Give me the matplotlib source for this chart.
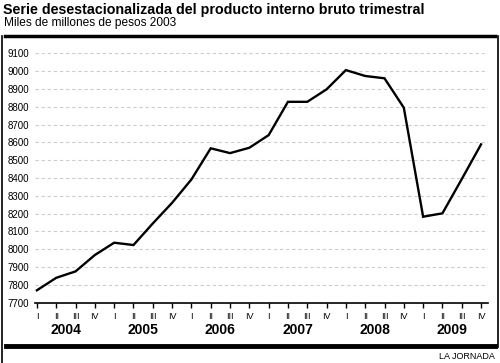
import matplotlib.pyplot as plt
from matplotlib.lines import Line2D

plt.rcParams['font.family'] = ['Liberation Sans', 'DejaVu Sans']

years = ['2004', '2005', '2006', '2007', '2008', '2009']
quarters = ['I', 'II', 'III', 'IV']
# PIB desestacionalizado, miles de millones de pesos 2003
pib = [7770, 7840, 7876, 7968, 8037, 8024,
       8145, 8261, 8392, 8567, 8540, 8570,
       8641, 8828, 8828, 8898, 9006, 8973,
       8960, 8795, 8183, 8202, 8394, 8589]
yticks = list(range(7700, 9101, 100))

fig = plt.figure(figsize=(5, 3.63), dpi=100)
ax = fig.add_axes([0.07, 0.166, 0.906, 0.687])

x = list(range(len(pib)))
ax.plot(x, pib, color='black', lw=1.7, solid_joinstyle='miter', zorder=3)

ax.set_xlim(-0.1, 23.36)
ax.set_ylim(7700, 9100)
ax.set_yticks(yticks)
ax.set_yticklabels([str(v) for v in yticks], fontsize=7)
for v in yticks[1:]:
    ax.axhline(v, color='#cccccc', lw=0.8, ls=(0, (3, 2.5)), zorder=1)

ax.set_xticks(x)
ax.set_xticklabels(quarters * len(years), fontsize=6.5)
ax.tick_params(axis='x', direction='out', length=3.5, width=1, pad=3)
ax.tick_params(axis='y', length=0, pad=4)

for s in ['top', 'right', 'left']:
    ax.spines[s].set_visible(False)
ax.spines['bottom'].set_linewidth(1.2)

for i, yr in enumerate(years):
    ax.text(4 * i + 1.5, -0.11, yr, transform=ax.get_xaxis_transform(),
            ha='center', va='center', fontsize=10, fontweight='bold')

fig.text(0.006, 0.973, 'Serie desestacionalizada del producto interno bruto trimestral',
         fontsize=10.3, fontweight='bold', va='center', ha='left')
fig.text(0.008, 0.938, 'Miles de millones de pesos 2003', fontsize=8.6, va='center', ha='left')
fig.text(0.99, 0.018, 'LA JORNADA', fontsize=6.5, ha='right', va='center')

# marco
fig.add_artist(Line2D([0.01, 0.99], [1 - 36/363, 1 - 36/363], color='black', lw=2.5))
fig.add_artist(Line2D([0.012, 0.99], [1 - 345.5/363, 1 - 345.5/363], color='black', lw=3.5))
fig.add_artist(Line2D([0.003, 0.003], [0, 1 - 36/363], color='black', lw=1.2))
fig.add_artist(Line2D([0.996, 0.996], [1 - 347/363, 1 - 36/363], color='black', lw=1.2))

fig.savefig('out.png', dpi=100)
